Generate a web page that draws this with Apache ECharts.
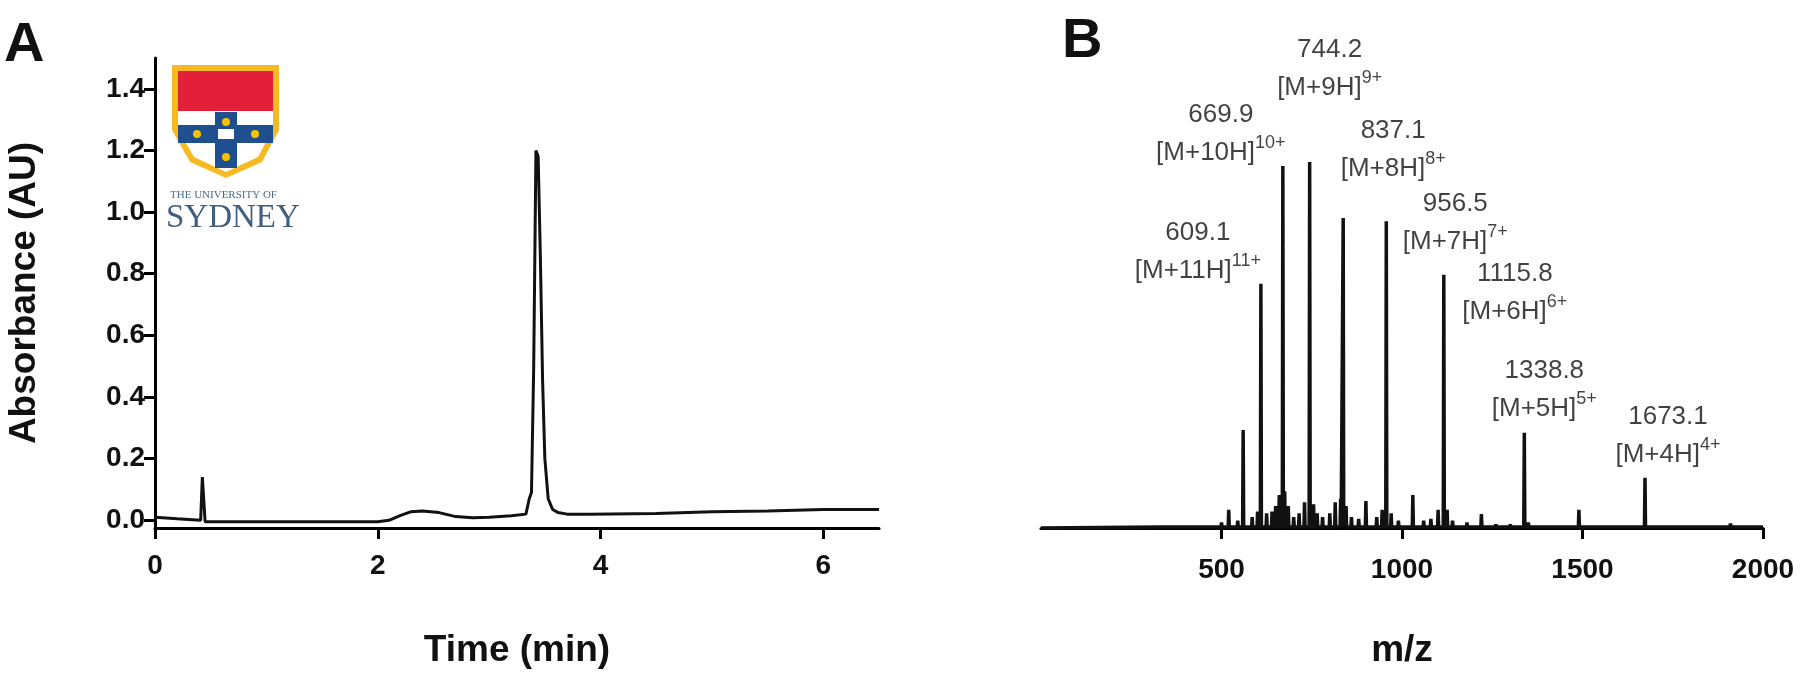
<!DOCTYPE html>
<html>
<head>
<meta charset="utf-8">
<script src="https://cdn.jsdelivr.net/npm/echarts@6/dist/echarts.min.js"></script>
<style>
  html, body { margin: 0; padding: 0; background: #fff; }
  #chart { width: 1810px; height: 674px; }
</style>
</head>
<body>
<div id="chart"></div>
<script>
  // chromatogram (time in min, absorbance in AU)
  var hplcTime = [0, 0.2, 0.41, 0.425, 0.435, 0.45, 0.6, 1.0, 1.5, 2.0, 2.1, 2.2, 2.3, 2.4, 2.55, 2.7, 2.85, 3.0, 3.2, 3.33, 3.36, 3.38, 3.4, 3.42, 3.44, 3.46, 3.48, 3.5, 3.53, 3.57, 3.62, 3.7, 3.9, 4.5, 5.0, 5.5, 6.0, 6.5];
  var hplcAbs = [0.01, 0.005, 0.0, 0.14, 0.14, -0.005, -0.005, -0.005, -0.005, -0.005, 0.0, 0.015, 0.028, 0.03, 0.025, 0.012, 0.008, 0.01, 0.015, 0.02, 0.07, 0.09, 0.5, 1.2, 1.18, 0.85, 0.45, 0.2, 0.07, 0.035, 0.025, 0.02, 0.02, 0.022, 0.028, 0.03, 0.035, 0.035];

  // mass spectrum, relative intensity (%)
  var peakMz = [609.1, 669.9, 744.2, 837.1, 956.5, 1115.8, 1338.8, 1673.1];
  var peakInt = [66.7, 98.9, 100, 84.7, 83.8, 69.2, 26.0, 13.7];
  var peakIon = ['11', '10', '9', '8', '7', '6', '5', '4'];
  var minorMz = [330, 420, 470, 500, 520, 545, 560, 585, 600, 625, 640, 650, 660, 675, 685, 700, 715, 730, 755, 765, 780, 800, 815, 830, 845, 860, 880, 900, 930, 945, 970, 990, 1030, 1060, 1080, 1100, 1125, 1140, 1180, 1220, 1260, 1300, 1350, 1400, 1450, 1490, 1550, 1600, 1700, 1750, 1830, 1910, 1980];
  var minorInt = [0.5, 0.8, 0.7, 1.5, 5.0, 2.0, 26.8, 3.0, 4.5, 4.0, 4.5, 6.0, 9.0, 10.0, 6.0, 3.0, 4.0, 7.0, 6.5, 4.0, 3.0, 4.0, 7.0, 8.0, 6.0, 3.0, 2.5, 7.4, 3.0, 5.0, 4.0, 2.0, 9.0, 2.0, 2.5, 5.0, 5.0, 2.0, 1.5, 3.8, 1.0, 1.0, 1.5, 0.8, 0.8, 5.0, 0.8, 0.8, 0.8, 0.6, 0.8, 1.2, 0.5];

  // label offsets from each peak top (px)
  var labelOffset = [[-63, 11], [-62, 11], [20, -50], [50, -25], [69, 45], [71, 61], [20, 0], [23, 1]];

  var hplcData = hplcTime.map(function (t, i) { return [t, hplcAbs[i]]; });

  var msData = [[0, 0]];
  var allPeaks = [];
  peakMz.forEach(function (m, i) { allPeaks.push([m, peakInt[i]]); });
  minorMz.forEach(function (m, i) { allPeaks.push([m, minorInt[i]]); });
  allPeaks.sort(function (a, b) { return a[0] - b[0]; });
  allPeaks.forEach(function (p) {
    msData.push([p[0] - 1.5, 0.3], [p[0], p[1]], [p[0] + 1.5, 0.3]);
  });
  msData.push([2000, 0.3]);

  var labelData = peakMz.map(function (m, i) {
    return {
      value: [m, peakInt[i]],
      label: {
        offset: labelOffset[i],
        formatter: m.toFixed(1) + '\n[M+' + peakIon[i] + 'H]{s|' + peakIon[i] + '+}'
      }
    };
  });

  var bold = 'Liberation Sans, Arial, sans-serif';
  var narrow = 'Liberation Sans Narrow, Liberation Sans, Arial, sans-serif';
  var ink = '#111';

  var chart = echarts.init(document.getElementById('chart'));
  chart.setOption({
    animation: false,
    backgroundColor: '#fff',
    grid: [
      { left: 155, top: 58, width: 724, height: 483 },
      { left: 1041, top: 162, width: 722, height: 392 }
    ],
    xAxis: [{
      gridIndex: 0, type: 'value', min: 0, max: 6.5,
      name: 'Time (min)', nameLocation: 'middle', nameGap: 104,
      nameTextStyle: { fontFamily: bold, fontWeight: 'bold', fontSize: 37, color: ink },
      axisLine: { onZero: false, lineStyle: { color: '#000', width: 3 } },
      axisTick: { length: 11, lineStyle: { width: 3, color: '#000' }, customValues: [0, 2, 4, 6] },
      axisLabel: { customValues: [0, 2, 4, 6], fontFamily: bold, fontWeight: 'bold', fontSize: 28, color: ink, margin: 24 },
      splitLine: { show: false }
    }, {
      gridIndex: 1, type: 'value', min: 0, max: 2000,
      name: 'm/z', nameLocation: 'middle', nameGap: 104,
      nameTextStyle: { fontFamily: bold, fontWeight: 'bold', fontSize: 37, color: ink },
      axisLine: { onZero: false, lineStyle: { color: '#000', width: 3 } },
      axisTick: { length: 11, lineStyle: { width: 3, color: '#000' }, customValues: [500, 1000, 1500, 2000] },
      axisLabel: {
        customValues: [500, 1000, 1500, 2000],
        formatter: function (v) { return String(v); },
        fontFamily: bold, fontWeight: 'bold', fontSize: 28, color: ink, margin: 28
      },
      splitLine: { show: false }
    }],
    yAxis: [{
      gridIndex: 0, type: 'value', min: -0.025, max: 1.5,
      name: 'Absorbance (AU)', nameLocation: 'middle', nameGap: 112,
      nameTextStyle: { fontFamily: bold, fontWeight: 'bold', fontSize: 37, color: ink },
      axisLine: { show: true, lineStyle: { color: '#000', width: 3 } },
      axisTick: { show: true, length: 11, lineStyle: { width: 3, color: '#000' }, customValues: [0, 0.2, 0.4, 0.6, 0.8, 1.0, 1.2, 1.4] },
      axisLabel: {
        customValues: [0, 0.2, 0.4, 0.6, 0.8, 1.0, 1.2, 1.4],
        formatter: function (v) { return v.toFixed(1); },
        fontFamily: bold, fontWeight: 'bold', fontSize: 28, color: ink, margin: 10
      },
      splitLine: { show: false }
    }, {
      gridIndex: 1, type: 'value', min: 0, max: 100, show: false
    }],
    series: [{
      type: 'line', xAxisIndex: 0, yAxisIndex: 0, data: hplcData,
      symbol: 'none', lineStyle: { color: ink, width: 3 }
    }, {
      type: 'line', xAxisIndex: 1, yAxisIndex: 1, data: msData,
      symbol: 'none', lineStyle: { color: ink, width: 3.5 }
    }, {
      type: 'scatter', xAxisIndex: 1, yAxisIndex: 1, data: labelData,
      symbolSize: 0, silent: true,
      label: {
        show: true, position: 'top', align: 'center', lineHeight: 38,
        fontFamily: narrow, fontSize: 26, color: ink,
        rich: { s: { fontFamily: narrow, fontSize: 18, verticalAlign: 'top', lineHeight: 30, color: ink } }
      }
    }],
    graphic: [
      { type: 'text', left: 4, top: 18, style: { text: 'A', fontFamily: bold, fontWeight: 'bold', fontSize: 56, fill: ink } },
      { type: 'text', left: 1062, top: 14, style: { text: 'B', fontFamily: bold, fontWeight: 'bold', fontSize: 56, fill: ink } },
      // logo
      { type: 'polygon', shape: { points: [[172, 65], [279, 65], [279, 130], [262, 162], [226, 178], [190, 162], [172, 130]] }, style: { fill: '#f5b922' } },
      { type: 'polygon', shape: { points: [[178, 71], [273, 71], [273, 129], [258, 157], [226, 172], [194, 157], [178, 129]] }, style: { fill: '#fff' } },
      { type: 'rect', shape: { x: 178, y: 71, width: 95, height: 40 }, style: { fill: '#e3203a' } },
      { type: 'rect', shape: { x: 178, y: 125, width: 95, height: 18 }, style: { fill: '#1f4f8f' } },
      { type: 'rect', shape: { x: 215, y: 112, width: 22, height: 56 }, style: { fill: '#1f4f8f' } },
      { type: 'circle', shape: { cx: 226, cy: 122, r: 4 }, style: { fill: '#f5c400' } },
      { type: 'circle', shape: { cx: 226, cy: 157, r: 4 }, style: { fill: '#f5c400' } },
      { type: 'circle', shape: { cx: 197, cy: 134, r: 4 }, style: { fill: '#f5c400' } },
      { type: 'circle', shape: { cx: 255, cy: 134, r: 4 }, style: { fill: '#f5c400' } },
      { type: 'rect', shape: { x: 218, y: 129, width: 16, height: 10 }, style: { fill: '#fff' } },
      { type: 'text', left: 170, top: 190, style: { text: 'THE UNIVERSITY OF', fontFamily: 'Liberation Serif, serif', fontSize: 11, fill: '#4c6a85' } },
      { type: 'text', left: 166, top: 202, style: { text: 'SYDNEY', fontFamily: 'Liberation Serif, serif', fontSize: 33, fill: '#3f5f7d' } }
    ]
  });
</script>
</body>
</html>
